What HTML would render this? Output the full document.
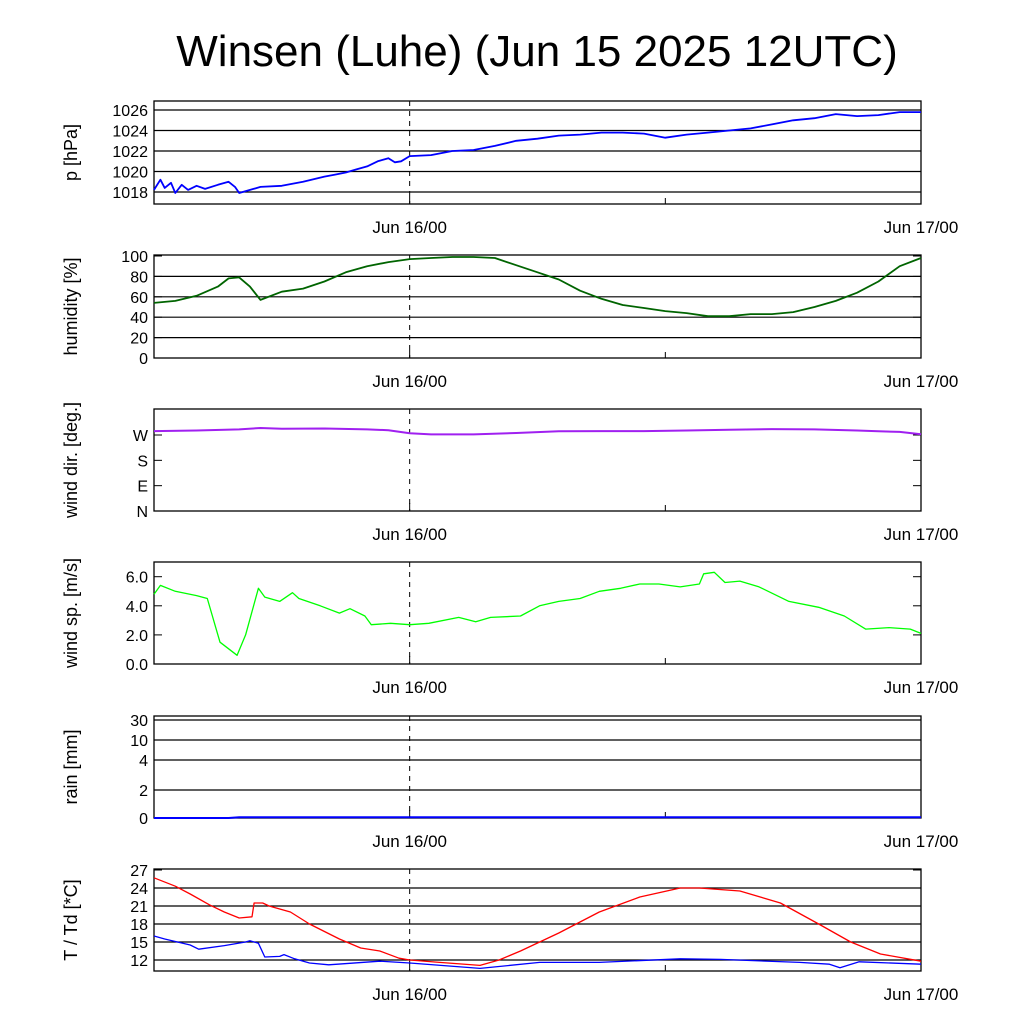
<!DOCTYPE html>
<html><head><meta charset="utf-8"><style>
html,body{margin:0;padding:0;background:#fff;width:1024px;height:1024px;overflow:hidden}
svg text{font-family:"Liberation Sans",sans-serif}
</style></head><body>
<svg id="c" width="1024" height="1024" xmlns="http://www.w3.org/2000/svg">
<text x="537" y="66" font-size="44" text-anchor="middle">Winsen (Luhe) (Jun 15 2025 12UTC)</text>
</svg>
<script>
// time axis: hours relative to Jun 16/00
const xTicks=["Jun 16/00","Jun 17/00"];
const xTickHours=[0,24];
// pressure
const pH=[-12,-11.7,-11.5,-11.2,-11,-10.7,-10.4,-10,-9.6,-9,-8.5,-8.2,-8,-7,-6,-5,-4,-3.5,-3,-2.5,-2,-1.5,-1,-0.7,-0.4,0,1,2,3,4,5,6,7,8,9,10,11,12,13,14,15,16,17,18,19,20,21,22,23,24];
const pV=[1018.2,1019.2,1018.4,1018.9,1017.9,1018.7,1018.2,1018.6,1018.3,1018.7,1019.0,1018.5,1017.9,1018.5,1018.6,1019.0,1019.5,1019.7,1019.9,1020.2,1020.5,1021.0,1021.3,1020.9,1021.0,1021.5,1021.6,1022.0,1022.1,1022.5,1023.0,1023.2,1023.5,1023.6,1023.8,1023.8,1023.7,1023.3,1023.6,1023.8,1024.0,1024.2,1024.6,1025.0,1025.2,1025.6,1025.4,1025.5,1025.8,1025.8];
// humidity
const hH=[-12,-11,-10,-9,-8.5,-8,-7.5,-7,-6,-5,-4,-3,-2,-1,0,1,2,3,4,5,6,7,8,9,10,11,12,13,14,15,16,17,18,19,20,21,22,23,24];
const hV=[54,56,61,70,78,79,70,57,65,68,75,84,90,94,97,98,99,99,98,91,84,77,66,58,52,49,46,44,41,41,43,43,45,50,56,64,75,90,98];
// wind direction (deg)
const dH=[-12,-10,-8,-7,-6,-4,-2,-1,0,1,3,5,7,9,11,13,15,17,19,21,22,23,24];
const dV=[284,286,290,295,292,293,290,287,276,272,272,277,283,284,284,286,289,291,290,286,283,281,273];
// wind speed (m/s)
const sH=[-12,-11.7,-11,-10,-9.5,-8.9,-8.1,-7.7,-7.1,-6.8,-6.1,-5.5,-5.2,-4.2,-3.3,-2.8,-2.1,-1.8,-0.9,0,0.9,2.3,3.1,3.8,5.2,6.1,7,8,8.9,9.9,10.8,11.7,12.7,13.6,13.8,14.3,14.8,15.5,16.4,17.8,19.2,20.4,21.4,22.5,23.5,24];
const sV=[4.8,5.4,5.0,4.7,4.5,1.5,0.6,2.0,5.2,4.6,4.3,4.9,4.5,4.0,3.5,3.8,3.3,2.7,2.8,2.7,2.8,3.2,2.9,3.2,3.3,4.0,4.3,4.5,5.0,5.2,5.5,5.5,5.3,5.5,6.2,6.3,5.6,5.7,5.3,4.3,3.9,3.3,2.4,2.5,2.4,2.1];
// rain (mm)
const rH=[-12,-8.5,-8,24];
const rV=[0,0,0.05,0.05];
const rainTicks=[0,2,4,10,30];
// temperature / dewpoint
const tH=[-12,-11,-10.3,-9.4,-8.7,-8,-7.4,-7.3,-6.9,-6.6,-5.6,-4.7,-3.3,-2.3,-1.4,-0.5,0,1.4,3.3,4.2,5.2,7,8.9,10.8,12.7,13.6,15.5,17.4,19.2,20.7,22.1,24];
const tV=[25.7,24.3,23,21.2,20,19,19.2,21.5,21.5,21,20,18,15.5,14,13.5,12.3,12,11.6,11.1,12,13.5,16.5,20,22.5,24,24,23.5,21.5,18,15,13,11.8];
const tdH=[-12,-11.5,-10.3,-9.9,-8.7,-7.7,-7.5,-7.1,-6.8,-6.1,-5.9,-5.4,-4.7,-3.8,-1.4,0,3.3,6.1,8.9,12.7,14.6,18.3,19.7,20.2,21.1,24];
const tdV=[16,15.5,14.5,13.8,14.4,15,15.2,14.8,12.5,12.6,12.9,12.2,11.5,11.2,11.8,11.5,10.6,11.6,11.6,12.2,12.1,11.6,11.3,10.7,11.7,11.3];

const NS="http://www.w3.org/2000/svg",svg=document.getElementById('c');
const X0=154,X1=921,H0=-12,H1=24;
const xs=h=>X0+(h-H0)/(H1-H0)*(X1-X0);
function el(tag,at,parent){const e=document.createElementNS(NS,tag);for(const k in at)e.setAttribute(k,at[k]);(parent||svg).appendChild(e);return e;}
function panel(name,top,bot,ys,ticks,labels,grid,title){
  const g=el('g',{});
  
  
  if(grid)ticks.forEach(v=>{const y=ys(v);if(y>top+1&&y<bot-1){const l=el('line',{x1:X0,x2:X1,y1:y,y2:y,stroke:'#000','stroke-width':1.2},g);}});
  ticks.forEach((v,i)=>{const y=ys(v);el('line',{x1:X0,x2:X0+8,y1:y,y2:y,stroke:'#000'},g);el('line',{x1:X1-8,x2:X1,y1:y,y2:y,stroke:'#000'},g);
    const t=el('text',{x:X0-6,y:y+6,'font-size':16,'text-anchor':'end'},g);t.textContent=labels[i];
    });
  const dl=el('line',{x1:xs(0),x2:xs(0),y1:top,y2:bot,stroke:'#000','stroke-dasharray':'5,5'},g);
  
  el('line',{x1:xs(0),x2:xs(0),y1:bot-8,y2:bot,stroke:'#000'},g);
  el('line',{x1:xs(12),x2:xs(12),y1:bot-6,y2:bot,stroke:'#000'},g);
  const fr=el('rect',{x:X0,y:top,width:X1-X0,height:bot-top,fill:'none',stroke:'#000','stroke-width':1.3},g);
  
  xTicks.forEach((s,i)=>{const t=el('text',{x:xs(xTickHours[i]),y:bot+29,'font-size':17,'text-anchor':'middle'},g);t.textContent=s;
    });
  const cy=(top+bot)/2;
  const tt=el('text',{x:0,y:0,'font-size':18,'text-anchor':'middle',transform:`translate(77,${cy}) rotate(-90)`},g);tt.textContent=title;
  
  return g;
}
function series(g,name,H,V,ys,color,w){
  const d=H.map((h,i)=>(i?'L':'M')+xs(h).toFixed(1)+','+ys(V[i]).toFixed(1)).join('');
  const p=el('path',{d:d,fill:'none',stroke:color,'stroke-width':w||1.5,'stroke-linejoin':'round'},g);
  
  
}
// pressure
{const ys=v=>192-(v-1018)*10.25;const tk=[1018,1020,1022,1024,1026];
 const g=panel('pressure',101,204,ys,tk,tk.map(String),true,'p [hPa]');
 series(g,'pressure-line',pH,pV,ys,'#0000ff',1.8);}
// humidity
{const ys=v=>358-v*1.02;const tk=[0,20,40,60,80,100];
 const g=panel('humidity',255,358,ys,tk,tk.map(String),true,'humidity [%]');
 series(g,'humidity-line',hH,hV,ys,'#006400',1.8);}
// wind direction
{const ys=v=>511-v*(76/270);const tk=[0,90,180,270];
 const g=panel('wind-direction',409,511,ys,tk,['N','E','S','W'],false,'wind dir. [deg.]');
 series(g,'wind-direction-line',dH,dV,ys,'#a020f0',2);}
// wind speed
{const ys=v=>664-v*14.55;const tk=[0,2,4,6];
 const g=panel('wind-speed',562,664,ys,tk,tk.map(v=>v.toFixed(1)),false,'wind sp. [m/s]');
 series(g,'wind-speed-line',sH,sV,ys,'#00ff00',1.3);}
// rain (piecewise scale)
{const tp=[818,790,760,740,720];
 const ys=v=>{for(let i=1;i<rainTicks.length;i++){if(v<=rainTicks[i]){const a=rainTicks[i-1],b=rainTicks[i];return tp[i-1]+(v-a)/(b-a)*(tp[i]-tp[i-1]);}}return tp[tp.length-1];};
 const g=panel('rain',716,818,ys,rainTicks,rainTicks.map(String),true,'rain [mm]');
 series(g,'rain-line',rH,rV,ys,'#0000ff',2);}
// temperature
{const ys=v=>960-(v-12)*6;const tk=[12,15,18,21,24,27];
 const g=panel('temperature',869,971,ys,tk,tk.map(String),true,'T / Td [*C]');
 series(g,'temperature-line',tH,tV,ys,'#ff0000',1.3);
 series(g,'dewpoint-line',tdH,tdV,ys,'#0000ff',1.3);}
</script>
</body></html>
